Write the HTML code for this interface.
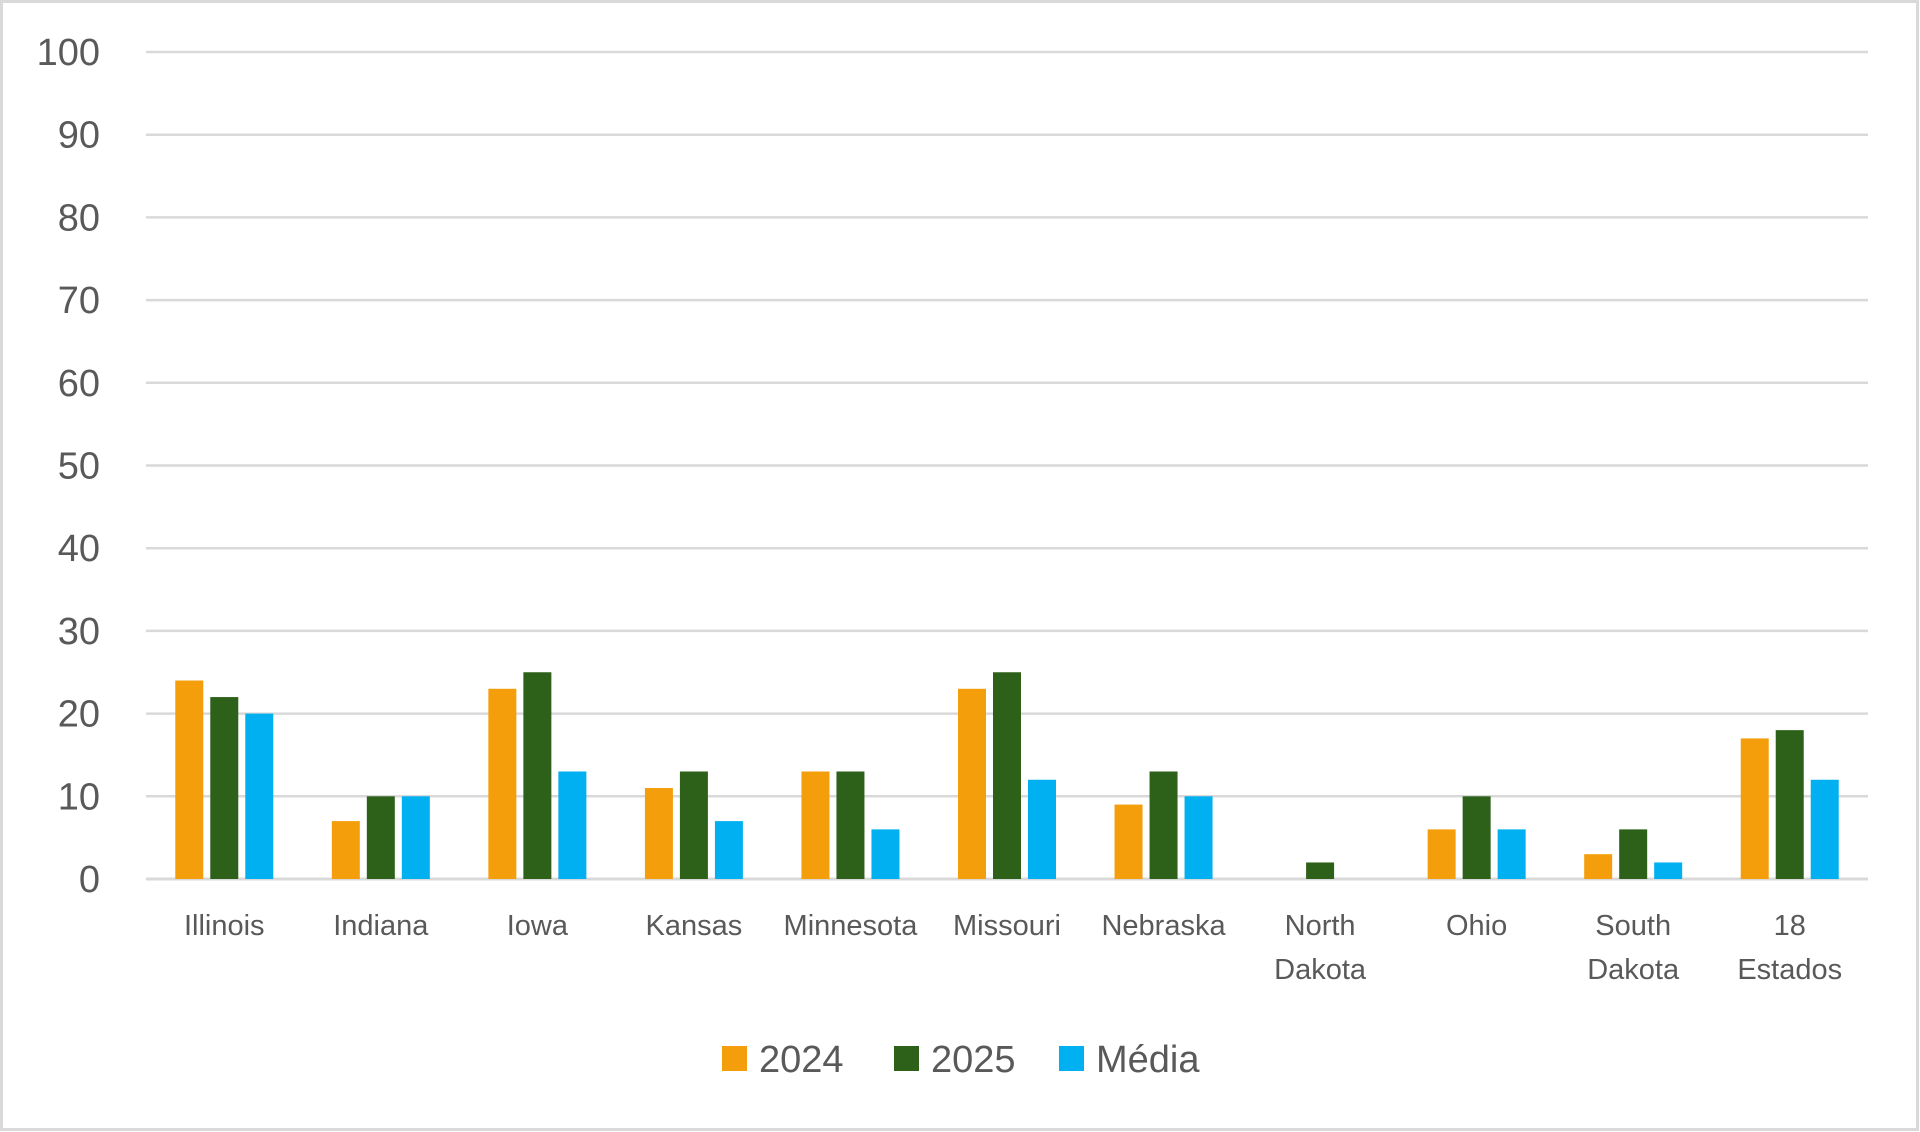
<!DOCTYPE html>
<html><head><meta charset="utf-8"><style>
body{margin:0;background:#fff;}
svg{display:block;font-family:"Liberation Sans",sans-serif;}
</style></head><body>
<svg id="chart" width="1920" height="1132">
<rect x="1.5" y="1.5" width="1916" height="1128" fill="#fff" stroke="#d9d9d9" stroke-width="3"/>
<g id="grid"></g><g id="bars"></g><g id="xlabels"></g><g id="legend"></g>
</svg>
<script>
const categories=[["Illinois"],["Indiana"],["Iowa"],["Kansas"],["Minnesota"],["Missouri"],["Nebraska"],["North","Dakota"],["Ohio"],["South","Dakota"],["18","Estados"]];
const s2024=[24,7,23,11,13,23,9,0,6,3,17];
const s2025=[22,10,25,13,13,25,13,2,10,6,18];
const media=[20,10,13,7,6,12,10,0,6,2,12];
const yTicks=[0,10,20,30,40,50,60,70,80,90,100];
const seriesNames=["2024","2025","Média"];
const colors=["#f59e0b","#2d6119","#00b0f0"];
const NS="http://www.w3.org/2000/svg";
const x0=146,x1=1868,yTop=52,yBot=879;
const y=v=>yBot-(v/100)*(yBot-yTop);
const band=(x1-x0)/categories.length;
function mk(t,a,p){const e=document.createElementNS(NS,t);for(const k in a)e.setAttribute(k,a[k]);p.appendChild(e);return e;}
const grid=document.getElementById('grid');
yTicks.forEach(t=>{
 const l=mk('line',{x1:x0,x2:x1,y1:y(t),y2:y(t),stroke:'#d9d9d9','stroke-width':t===0?3:2.5},grid);
 
 
 const tx=mk('text',{x:100,y:y(t)+13,'text-anchor':'end','font-size':38,fill:'#595959'},grid);
 tx.textContent=t;
 
 
});
const bars=document.getElementById('bars');
const series=[s2024,s2025,media];
const bw=28,step=35;
categories.forEach((c,i)=>{
 const cx=x0+band*(i+0.5);
 series.forEach((s,j)=>{
  const v=s[i];
  const bx=cx+(j-1)*step-bw/2;
  const r=mk('rect',{x:bx,y:y(v),width:bw,height:yBot-y(v),fill:colors[j]},bars);
  
  
 });
 const t=mk('text',{x:cx,'text-anchor':'middle','font-size':29,fill:'#595959'},document.getElementById('xlabels'));
 
 
 c.forEach((ln,k)=>{const ts=mk('tspan',{x:cx,y:935+k*44},t);ts.textContent=ln;});
});
const lg=document.getElementById('legend');
const lx=[722,894,1059];
seriesNames.forEach((n,j)=>{
 const r=mk('rect',{x:lx[j],y:1046,width:25,height:25,fill:colors[j]},lg);
 
 
 const t=mk('text',{x:lx[j]+37,y:1072,'font-size':38,fill:'#595959'},lg);
 t.textContent=n;
 
 
});
</script>
</body></html>
